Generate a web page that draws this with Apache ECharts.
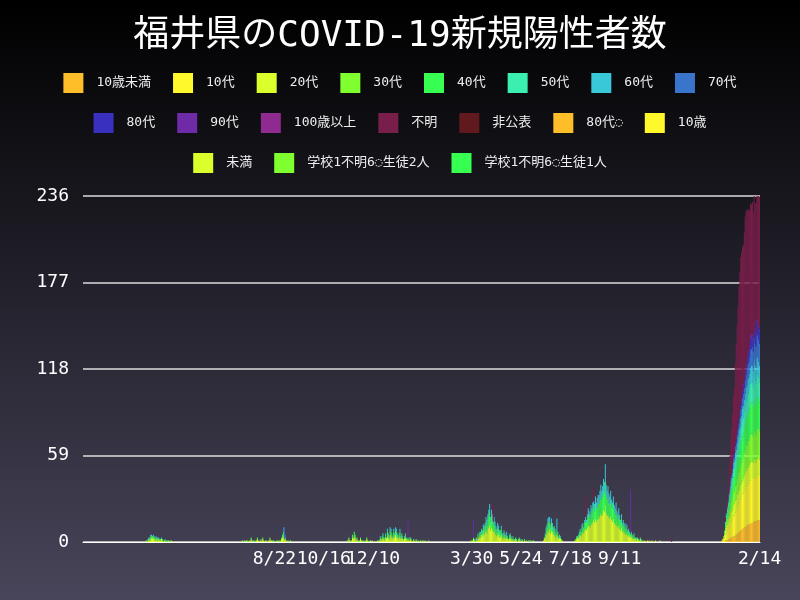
<!DOCTYPE html>
<html><head><meta charset="utf-8">
<script src="https://cdn.jsdelivr.net/npm/echarts@6/dist/echarts.min.js"></script>
<style>html,body{margin:0;padding:0;}#c{width:800px;height:600px;}</style>
</head><body><div id="c"></div>
<script>
const startDate = '2020-01-22', endDate = '2022-02-14';
const tickLabels = ['2020-08-22','2020-10-16','2020-12-10','2021-03-30','2021-05-24','2021-07-18','2021-09-11','2022-02-14'];
const seriesNames = ['10歳未満','10代','20代','30代','40代','50代','60代','70代','80代','90代','100歳以上','不明','非公表','80代◌','10歳','未満','学校1不明6◌生徒2人','学校1不明6◌生徒1人'];
const colors = ['#FEBE2A','#FFF82A','#DAFF2A','#7FFF30','#37FF52','#3AEFB0','#38C8D8','#3A75CC','#3A30C0','#6F2AA8','#8E2A90','#781E4A','#601A1E','#FEBE2A','#FFF82A','#DAFF2A','#7FFF30','#37FF52'];
const legendRows = [[0,1,2,3,4,5,6,7],[8,9,10,11,12,13,14],[15,16,17]];

// segments: [series, startDate, values]
const segments = [
 ['20代','2020-03-31',[0,1,0,1,2,1,2,3,2,3,2,1,2,2,1,2,1,1,2,1,0,1,1,0,1,0,1,0,0,1,0]],
 ['40代','2020-03-31',[0,0,1,0,1,1,2,1,2,1,1,2,1,1,1,0,1,1,0,1,1,0,0,1,0,1,0,0,1,0,0]],
 ['60代','2020-03-31',[0,0,0,1,0,1,1,1,0,1,1,0,1,0,1,1,0,0,1,0,0,0,1,0,0,0,0,0,0,0,0]],
 ['20代','2020-07-15',[0,0,1,0,0,1,0,1,0,0,1,0,2,1,0,1,0,0,1,2,1,0,1,1,0,2,1,0,1,0,0,1,0,2,1,1,0,1,0,0,0,1,0,1,0,1,2,3,4,1,2,1,0,1,0,0,1]],
 ['40代','2020-07-15',[0,0,0,0,1,0,0,0,1,0,0,0,1,0,1,0,0,1,0,1,0,0,0,1,0,1,0,0,0,1,0,0,0,1,0,0,1,0,0,0,1,0,0,0,1,0,1,2,3,1,1,0,0,0,1,0,0]],
 ['70代','2020-09-01',[3,8,2]],
 ['20代','2020-11-10',[0,1,0,2,1,0,1,3,2,4,3,1,2,1,0,1,2,1,0,1,0,0,1,2,1,0,0,1,0,1]],
 ['40代','2020-11-10',[0,0,1,1,0,1,0,2,1,3,2,1,1,0,1,0,1,0,1,0,0,1,0,1,0,0,1,0,0,0]],
 ['20代','2020-12-15',[1,0,1,2,1,2,3,2,1,3,2,4,3,2,5,4,3,2,4,3,5,4,3,2,3,4,2,3,2,1,2,3,2,1,2,1,1,2,1,0,1,1,0,1,0,1,0,0,1,0,1,0,0,1,0,0,0,1,0,0]],
 ['40代','2020-12-15',[0,1,0,1,1,1,2,1,1,2,1,3,2,1,3,3,2,1,3,2,3,3,2,1,2,3,1,2,1,1,1,2,1,1,1,0,1,1,0,0,1,0,0,1,0,0,1,0,0,0,0,1,0,0,0,0,0,0,0,0]],
 ['60代','2020-12-15',[0,0,0,1,0,1,1,0,1,1,0,2,1,1,2,2,1,1,2,1,2,2,1,1,1,2,1,1,1,0,1,1,0,0,0,0,1]],
 ['90代','2021-01-18',[12]],
 ['20代','2021-03-28',[0,1,0,1,2,1,0,2,1,3,2,4,3,5,4,6,5,7,8,6,9,10,12,8,10,9,7,8,6,5,4,6,5,3,4,5,3,2,4,3,2,3,2,1,2,3,2,1,2,1,1,2,1,0,1,2,1,0,1,1,0,1,0,1,0,0,1,0,1,0,0,1,0,0]],
 ['40代','2021-03-28',[0,0,1,0,1,0,1,1,0,2,1,2,2,3,2,4,3,4,6,5,7,8,9,6,8,7,5,6,5,4,3,4,4,3,3,4,2,2,3,2,2,2,1,1,2,2,1,1,1,1,0,1,1,0,1,1,0,0,1,0,0,1,0,0,0,1,0,0,0,0,1,0,0,0]],
 ['60代','2021-03-28',[0,0,0,0,0,1,0,0,1,1,0,1,2,1,2,2,3,2,3,4,3,4,5,3,4,3,2,3,3,2,2,3,2,2,1,2,1,2,1,1,1,2,1,0,1,1,1,0,1,0,1,0,0,1,0,0,1,0,0,0,1,0,0,0,0,0,0,1,0,0,0,0,0,0]],
 ['不明','2021-04-23',[12]],
 ['90代','2021-04-01',[12]],
 ['20代','2021-06-18',[1,2,3,5,6,8,7,9,6,8,7,5,6,4,3,5,4,2,3,2,1,1,0]],
 ['40代','2021-06-18',[0,1,2,3,4,5,6,5,4,5,4,3,4,3,2,3,2,1,2,1,1,0,0]],
 ['60代','2021-06-18',[0,0,1,2,2,3,4,3,2,3,2,2,1,2,1,8,1,1,0,1,0,0,0]],
 ['20代','2021-07-23',[1,1,2,3,2,4,5,4,6,7,6,8,9,8,10,12,11,10,13,12,14,15,13,16,14,15,17,16,18,20,18,19,22,21,25,20,18,19,17,16,18,15,14,16,13,12,14,11,10,12,9,8,10,7,8,6,7,5,6,4,5,4,3,4,3,2,3,2,2,1,2,1,1,2,1,0,1,0,1,0]],
 ['40代','2021-07-23',[0,1,1,1,2,2,3,2,4,4,3,5,5,5,6,7,7,6,8,7,8,9,8,10,9,9,10,10,11,12,11,12,13,13,16,12,11,12,10,10,11,9,9,10,8,7,8,7,6,7,6,5,6,4,5,4,4,3,4,3,3,2,2,2,2,1,2,1,1,1,1,1,0,1,0,1,0,0,0,0]],
 ['60代','2021-07-23',[0,0,1,0,1,1,1,1,2,2,1,2,3,2,3,4,3,3,4,4,5,4,5,5,4,6,5,6,6,7,6,7,8,7,12,7,6,7,6,5,6,5,4,5,4,4,5,3,3,4,3,2,3,2,2,2,2,1,2,1,1,1,1,1,0,1,1,0,0,1,0,0,0,0,1,0,0,0,0,0]],
 ['不明','2021-08-04',[15]],
 ['不明','2021-08-12',[10]],
 ['90代','2021-09-23',[30]],
 ['20代','2021-10-12',[1,0,1,0,0,1,0,0,0,1,0,0,0,0,1]],
 ['不明','2021-11-08',[3]],
 ['10歳未満','2022-01-01',[0,0,0,0,0,0,1,1,1,2,2,2,3,3,3,4,4,5,5,6,6,7,7,8,8,9,9,10,10,11,11,12,12,12,13,13,13,14,14,14,14,15,15,15,15]],
 ['10代','2022-01-01',[0,0,1,1,2,3,4,5,6,7,8,9,10,11,12,13,14,15,16,17,18,19,20,21,22,23,24,25,26,27,27,28,28,29,29,30,30,29,30,30,29,30,30,31,30]],
 ['20代','2022-01-01',[0,0,0,1,1,2,3,4,5,5,6,6,7,7,7,8,8,8,8,9,9,9,9,10,10,10,10,10,11,11,11,11,11,12,12,12,12,11,12,12,11,12,12,12,11]],
 ['30代','2022-01-01',[0,0,0,0,1,1,2,3,4,4,5,6,7,7,8,9,9,10,10,11,12,12,13,13,14,14,15,16,16,17,17,18,18,18,19,19,19,18,20,19,19,20,20,19,19]],
 ['40代','2022-01-01',[0,0,0,0,0,1,2,3,4,5,6,7,8,8,9,10,10,11,12,12,13,14,14,15,15,16,16,17,17,18,19,19,20,20,21,21,21,20,22,21,21,22,22,21,20]],
 ['50代','2022-01-01',[0,0,0,0,0,1,1,2,2,3,3,4,4,5,5,6,6,7,7,8,8,9,9,10,10,11,11,11,12,12,13,13,13,14,14,14,14,14,15,14,14,15,15,14,14]],
 ['60代','2022-01-01',[0,0,0,0,0,0,1,1,1,1,2,2,3,3,3,4,4,5,5,5,6,6,7,7,7,8,8,8,9,9,9,10,10,10,11,11,11,11,12,11,11,12,12,11,11]],
 ['70代','2022-01-01',[0,0,0,0,0,0,0,1,1,1,1,2,2,2,3,3,3,4,4,5,5,5,6,6,7,7,8,8,9,9,10,10,11,11,12,12,13,13,14,14,14,15,15,15,15]],
 ['80代','2022-01-01',[0,0,0,0,0,0,0,0,0,1,1,1,1,1,2,2,2,2,3,3,3,3,4,4,4,4,5,5,5,5,6,6,6,6,7,7,7,7,8,8,8,8,8,8,8]],
 ['90代','2022-01-25',[1,1,2,1,2,2,3,2,3,2,3,3,2,3,3,3,2,3,3,3,2]],
 ['不明','2022-01-01',[0,0,0,0,0,1,2,3,5,8,15,20,25,30,35,40,45,55,65,72,80,90,95,100,100,98,95,100,105,105,100,98,95,92,90,88,90,85,88,85,88,86,85,88,90]]
];

const categories = [];
{ const d = new Date(startDate+'T00:00:00Z'), e = new Date(endDate+'T00:00:00Z');
  while (d <= e) { categories.push(d.toISOString().slice(0,10)); d.setUTCDate(d.getUTCDate()+1); } }
const idx = {}; categories.forEach((c,i)=>idx[c]=i);
const data = {}; seriesNames.forEach(n=>data[n]=categories.map(()=>0));
segments.forEach(([n,s,vals])=>{ const i0=idx[s]; vals.forEach((v,k)=>{ if(i0+k<categories.length) data[n][i0+k]+=v; }); });
const tickSet = new Set(tickLabels.map(t=>idx[t]));

const chart = echarts.init(document.getElementById('c'));
const font = 'DejaVu Sans Mono, Noto Sans CJK JP';
chart.setOption({
  backgroundColor: {type:'linear',x:0,y:0,x2:0,y2:1,colorStops:[{offset:0,color:'#000000'},{offset:1,color:'#48455a'}]},
  animation:false,
  color: colors,
  title:{text:'福井県のCOVID-19新規陽性者数',left:'center',top:14,textStyle:{color:'#fff',fontSize:36,fontWeight:'normal',fontFamily:font}},
  legend: legendRows.map((r,i)=>({data:r.map(k=>seriesNames[k]),top:68+i*40,left:'center',itemWidth:20,itemHeight:20,itemGap:22,icon:'rect',textStyle:{color:'#eee',fontSize:13,fontFamily:font,padding:[0,0,0,8]}})),
  grid:{left:83,right:40,top:196,bottom:58},
  xAxis:{type:'category',data:categories,axisTick:{show:false},axisLine:{lineStyle:{color:'#fff'}},
    axisLabel:{interval:(i)=>tickSet.has(i),color:'#fff',fontSize:18,fontFamily:font,formatter:v=>{const p=v.split('-');return (+p[1])+'/'+(+p[2]);}}},
  yAxis:{type:'value',min:0,max:236,interval:59,axisLine:{show:false},axisTick:{show:false},
    axisLabel:{color:'#fff',fontSize:18,fontFamily:font,margin:14},splitLine:{lineStyle:{color:'#ddd',width:1.5}}},
  series: seriesNames.map(n=>({name:n,type:'bar',stack:'a',data:data[n],barCategoryGap:'0%'}))
});
</script></body></html>
